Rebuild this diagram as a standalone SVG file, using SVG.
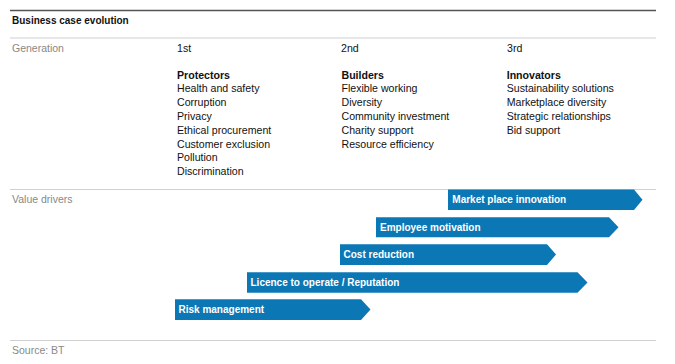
<svg xmlns="http://www.w3.org/2000/svg" width="675" height="364" viewBox="0 0 675 364">
<style>
text{font-family:"Liberation Sans",Arial,sans-serif;}
.t{font-size:10px;font-weight:bold;fill:#111;}
.lab{font-size:10.5px;fill:#888;}
.txt{font-size:10.6px;fill:#111;}
.hd{font-size:10.6px;font-weight:bold;fill:#111;}
.bar{fill:#0b77b4;}
.bl{font-size:10px;font-weight:bold;fill:#fff;}
.rule{stroke:#d0d0d0;stroke-width:1.2;}
</style>
<rect width="675" height="364" fill="#fff"/>
<line x1="10" y1="10.5" x2="656" y2="10.5" stroke="#555" stroke-width="1.3"/>
<text class="t" x="12" y="24">Business case evolution</text>
<line class="rule" x1="10" y1="38" x2="656" y2="38"/>
<text class="lab" x="12" y="52">Generation</text>
<text class="txt" x="177" y="52">1st</text>
<text class="txt" x="341" y="52">2nd</text>
<text class="txt" x="507" y="52">3rd</text>
<g id="protectors">
<text class="hd" x="177" y="78.5">Protectors</text>
<text class="txt" x="177" y="92.3">Health and safety</text>
<text class="txt" x="177" y="106.1">Corruption</text>
<text class="txt" x="177" y="119.9">Privacy</text>
<text class="txt" x="177" y="133.7">Ethical procurement</text>
<text class="txt" x="177" y="147.5">Customer exclusion</text>
<text class="txt" x="177" y="161.3">Pollution</text>
<text class="txt" x="177" y="175.1">Discrimination</text>
</g>
<g id="builders">
<text class="hd" x="341.5" y="78.5">Builders</text>
<text class="txt" x="341.5" y="92.3">Flexible working</text>
<text class="txt" x="341.5" y="106.1">Diversity</text>
<text class="txt" x="341.5" y="119.9">Community investment</text>
<text class="txt" x="341.5" y="133.7">Charity support</text>
<text class="txt" x="341.5" y="147.5">Resource efficiency</text>
</g>
<g id="innovators">
<text class="hd" x="506.7" y="78.5">Innovators</text>
<text class="txt" x="506.7" y="92.3">Sustainability solutions</text>
<text class="txt" x="506.7" y="106.1">Marketplace diversity</text>
<text class="txt" x="506.7" y="119.9">Strategic relationships</text>
<text class="txt" x="506.7" y="133.7">Bid support</text>
</g>
<line class="rule" x1="10" y1="189.5" x2="656" y2="189.5"/>
<text class="lab" x="12" y="202.5">Value drivers</text>
<g id="market-place-innovation">
<polygon class="bar" points="448,189.5 634,189.5 642.5,199.8 634,210 448,210"/>
<text class="bl" x="452.3" y="203">Market place innovation</text>
</g>
<g id="employee-motivation">
<polygon class="bar" points="376,217.3 609,217.3 618.5,227.3 609,237.3 376,237.3"/>
<text class="bl" x="380" y="231">Employee motivation</text>
</g>
<g id="cost-reduction">
<polygon class="bar" points="340,244.3 547,244.3 556,254.6 547,265 340,265"/>
<text class="bl" x="343.5" y="258">Cost reduction</text>
</g>
<g id="licence">
<polygon class="bar" points="247,272.3 577.5,272.3 587.5,282.5 577.5,292.7 247,292.7"/>
<text class="bl" x="250.5" y="286">Licence to operate / Reputation</text>
</g>
<g id="risk-management">
<polygon class="bar" points="175,299.3 361,299.3 370.5,309.6 361,320 175,320"/>
<text class="bl" x="178.5" y="313">Risk management</text>
</g>
<line class="rule" x1="10" y1="340.5" x2="656" y2="340.5"/>
<text class="lab" x="12" y="354">Source: BT</text>
</svg>
